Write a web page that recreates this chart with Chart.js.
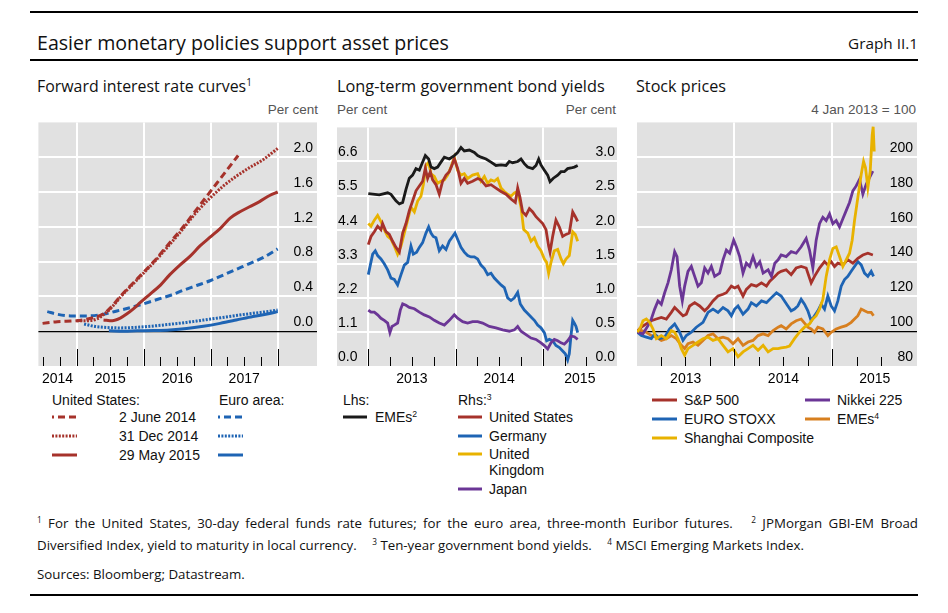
<!DOCTYPE html>
<html><head><meta charset="utf-8">
<script src="https://cdn.jsdelivr.net/npm/chart.js@4.4.0/dist/chart.umd.min.js"></script>
<style>
html,body{margin:0;padding:0;background:#fff;}
body{width:948px;height:613px;position:relative;overflow:hidden;font-family:"Liberation Sans",Arial,sans-serif;color:#000;}
.abs{position:absolute;white-space:nowrap;}
.rule{position:absolute;left:30px;width:888px;height:2px;background:#000;}
.hum{font-family:"Open Sans","Noto Sans",sans-serif;color:#111;}
canvas{position:absolute;}
.lg{position:absolute;white-space:nowrap;font-size:14px;line-height:16px;color:#111;}
.unit{position:absolute;white-space:nowrap;font-size:13.5px;line-height:16px;color:#555;}
sup{font-size:0.62em;line-height:0;vertical-align:0.6em;}
.gap{display:inline-block;width:12px;}
.fn{position:absolute;left:37px;line-height:18px;white-space:nowrap;}
</style></head><body>

<div class="rule" style="top:11px"></div>
<div id="title" class="abs hum" style="left:37px;top:30px;line-height:26px;">Easier monetary policies support asset prices</div>
<div id="graphno" class="abs hum" style="right:30px;top:30px;line-height:26px;">Graph II.1</div>
<div class="rule" style="top:59px"></div>

<div id="t1" class="abs hum" style="left:37px;top:74px;line-height:24px;">Forward interest rate curves<sup>1</sup></div>
<div id="t2" class="abs hum" style="left:337px;top:74px;line-height:24px;">Long-term government bond yields</div>
<div id="t3" class="abs hum" style="left:636px;top:74px;line-height:24px;">Stock prices</div>

<div class="unit" style="right:630px;top:102px;">Per cent</div>
<div class="unit" style="left:337px;top:102px;">Per cent</div>
<div class="unit" style="right:332px;top:102px;">Per cent</div>
<div class="unit" style="right:32px;top:102px;">4 Jan 2013 = 100</div>

<canvas id="c1" width="280" height="272" style="left:37px;top:118px"></canvas>
<canvas id="c2" width="280" height="272" style="left:337px;top:118px"></canvas>
<canvas id="c3" width="280" height="272" style="left:637px;top:118px"></canvas>

<div id="legends"></div>

<div id="fn1" class="fn hum" style="top:514px;width:881px;text-align:justify;text-align-last:justify;white-space:normal;"><sup>1</sup> For the United States, 30-day federal funds rate futures; for the euro area, three-month Euribor futures.<span class="gap"></span> <sup>2</sup> JPMorgan GBI-EM Broad</div>
<div id="fn2" class="fn hum" style="top:536px;">Diversified Index, yield to maturity in local currency.<span class="gap"></span> <sup>3</sup> Ten-year government bond yields.<span class="gap"></span> <sup>4</sup> MSCI Emerging Markets Index.</div>
<div id="src" class="fn hum" style="top:565px;">Sources: Bloomberg; Datastream.</div>
<div class="rule" style="top:594px"></div>

<script>
// ---------------- DATA ----------------
// Panel 1: forward interest rate curves (x = year, y = per cent)
const p1Years = [2014, 2015, 2016, 2017];
const p1YTicks = [0, 0.4, 0.8, 1.2, 1.6, 2.0];
const usJun14 = [[2014.49,0.09],[2014.71,0.11],[2015.0,0.12],[2015.16,0.14],[2015.4,0.2],[2015.53,0.29],[2015.65,0.4],[2015.9,0.6],[2016.15,0.8],[2016.37,1.0],[2016.59,1.2],[2016.79,1.4],[2016.99,1.6],[2017.19,1.8],[2017.41,2.02]];
const usDec14 = [[2015.0,0.12],[2015.16,0.12],[2015.3,0.14],[2015.4,0.19],[2015.53,0.28],[2015.65,0.39],[2015.9,0.59],[2016.15,0.79],[2016.37,0.98],[2016.59,1.18],[2016.79,1.37],[2016.99,1.53],[2017.19,1.67],[2017.38,1.78],[2017.58,1.88],[2017.78,1.97],[2018.0,2.1]];
const usMay15 = [[2015.4,0.13],[2015.53,0.12],[2015.65,0.15],[2015.75,0.2],[2015.85,0.26],[2015.95,0.33],[2016.1,0.43],[2016.25,0.53],[2016.39,0.65],[2016.54,0.76],[2016.69,0.86],[2016.84,0.98],[2016.99,1.08],[2017.14,1.18],[2017.29,1.3],[2017.43,1.37],[2017.58,1.43],[2017.73,1.49],[2017.88,1.56],[2018.0,1.6]];
const euJun14 = [[2014.56,0.225],[2014.71,0.195],[2014.91,0.176],[2015.16,0.176],[2015.4,0.195],[2015.6,0.233],[2015.8,0.27],[2016.0,0.315],[2016.2,0.364],[2016.39,0.41],[2016.59,0.47],[2016.79,0.525],[2016.99,0.58],[2017.19,0.646],[2017.38,0.71],[2017.58,0.777],[2017.78,0.845],[2018.0,0.946]];
const euDec14 = [[2015.11,0.083],[2015.26,0.056],[2015.4,0.045],[2015.65,0.038],[2015.9,0.045],[2016.15,0.06],[2016.39,0.079],[2016.64,0.101],[2016.89,0.128],[2017.14,0.154],[2017.38,0.18],[2017.63,0.206],[2017.88,0.229],[2018.0,0.244]];
const euMay15 = [[2015.48,0.004],[2015.7,0.0],[2015.9,0.004],[2016.15,0.008],[2016.39,0.015],[2016.64,0.03],[2016.89,0.056],[2017.14,0.09],[2017.38,0.128],[2017.63,0.169],[2017.88,0.203],[2018.0,0.225]];

// Panel 2: long-term government bond yields (lhs EMEs, rhs others)
const p2Years = [2013, 2014, 2015];
const p2LeftTicks = [0, 1.1, 2.2, 3.3, 4.4, 5.5, 6.6];
const p2RightTicks = [0, 0.5, 1.0, 1.5, 2.0, 2.5, 3.0];
const bondEME = [[2013.000,5.56],[2013.126,5.52],[2013.222,5.59],[2013.260,5.54],[2013.317,5.33],[2013.356,5.23],[2013.394,5.28],[2013.432,5.70],[2013.470,6.06],[2013.508,6.16],[2013.547,6.37],[2013.585,6.32],[2013.615,6.53],[2013.654,6.79],[2013.692,6.68],[2013.719,6.42],[2013.757,6.37],[2013.795,6.42],[2013.833,6.58],[2013.872,6.74],[2013.929,6.68],[2013.986,6.79],[2014.024,6.89],[2014.063,7.05],[2014.101,6.94],[2014.158,6.97],[2014.216,6.89],[2014.254,6.79],[2014.292,6.74],[2014.350,6.68],[2014.407,6.58],[2014.464,6.47],[2014.522,6.49],[2014.579,6.47],[2014.617,6.60],[2014.655,6.56],[2014.713,6.60],[2014.751,6.68],[2014.789,6.53],[2014.827,6.42],[2014.885,6.37],[2014.923,6.47],[2014.954,6.68],[2014.980,6.49],[2015.019,6.32],[2015.057,6.16],[2015.084,5.95],[2015.122,6.06],[2015.172,6.16],[2015.210,6.27],[2015.248,6.27],[2015.286,6.37],[2015.324,6.39],[2015.363,6.42],[2015.401,6.47]];
const bondUS = [[2013.000,1.78],[2013.031,1.90],[2013.069,1.97],[2013.107,2.05],[2013.145,2.00],[2013.164,2.09],[2013.203,1.97],[2013.241,1.93],[2013.279,1.83],[2013.317,1.74],[2013.356,1.67],[2013.394,1.95],[2013.432,2.09],[2013.470,2.28],[2013.508,2.42],[2013.547,2.57],[2013.585,2.64],[2013.623,2.71],[2013.654,2.90],[2013.680,2.75],[2013.711,2.85],[2013.738,2.73],[2013.776,2.66],[2013.814,2.52],[2013.852,2.71],[2013.891,2.80],[2013.929,2.85],[2013.967,2.97],[2013.986,3.04],[2014.024,2.90],[2014.063,2.68],[2014.101,2.75],[2014.139,2.68],[2014.196,2.71],[2014.254,2.75],[2014.292,2.73],[2014.350,2.64],[2014.407,2.66],[2014.464,2.61],[2014.522,2.56],[2014.579,2.52],[2014.636,2.45],[2014.686,2.40],[2014.713,2.61],[2014.740,2.47],[2014.770,2.26],[2014.808,2.21],[2014.847,2.31],[2014.885,2.26],[2014.923,2.19],[2014.961,2.14],[2015.000,2.09],[2015.038,2.00],[2015.068,1.76],[2015.084,1.67],[2015.114,1.90],[2015.152,2.14],[2015.191,2.04],[2015.229,1.90],[2015.267,1.93],[2015.305,1.95],[2015.344,2.26],[2015.374,2.19],[2015.401,2.12]];
const bondDE = [[2013.000,1.34],[2013.023,1.48],[2013.050,1.64],[2013.080,1.69],[2013.107,1.62],[2013.145,1.57],[2013.183,1.50],[2013.222,1.41],[2013.260,1.29],[2013.298,1.27],[2013.336,1.19],[2013.375,1.34],[2013.413,1.48],[2013.451,1.52],[2013.489,1.76],[2013.516,1.64],[2013.554,1.67],[2013.585,1.74],[2013.623,1.81],[2013.661,1.95],[2013.692,2.04],[2013.719,1.95],[2013.745,1.90],[2013.776,1.88],[2013.814,1.69],[2013.852,1.76],[2013.891,1.71],[2013.929,1.83],[2013.967,1.90],[2013.994,1.95],[2014.024,1.86],[2014.063,1.74],[2014.101,1.67],[2014.139,1.62],[2014.177,1.60],[2014.216,1.60],[2014.254,1.57],[2014.292,1.48],[2014.331,1.43],[2014.369,1.34],[2014.407,1.36],[2014.445,1.29],[2014.483,1.24],[2014.522,1.19],[2014.560,1.15],[2014.598,1.00],[2014.636,0.96],[2014.675,1.00],[2014.713,1.08],[2014.743,0.91],[2014.789,0.82],[2014.828,0.77],[2014.866,0.72],[2014.904,0.67],[2014.942,0.60],[2014.980,0.56],[2015.019,0.49],[2015.045,0.37],[2015.076,0.39],[2015.114,0.37],[2015.152,0.30],[2015.191,0.27],[2015.229,0.22],[2015.259,0.18],[2015.286,0.09],[2015.305,0.18],[2015.324,0.44],[2015.344,0.67],[2015.363,0.63],[2015.382,0.58],[2015.401,0.49]];
const bondUK = [[2013.000,2.09],[2013.031,2.05],[2013.069,2.14],[2013.107,2.21],[2013.145,2.12],[2013.183,2.00],[2013.222,1.90],[2013.260,1.86],[2013.298,1.76],[2013.336,1.64],[2013.375,1.76],[2013.413,1.95],[2013.451,2.14],[2013.489,2.33],[2013.528,2.26],[2013.566,2.42],[2013.604,2.49],[2013.631,2.66],[2013.661,2.94],[2013.692,2.99],[2013.719,2.82],[2013.757,2.78],[2013.795,2.68],[2013.833,2.71],[2013.872,2.73],[2013.910,2.80],[2013.948,2.92],[2013.986,3.06],[2014.024,2.87],[2014.063,2.80],[2014.101,2.82],[2014.139,2.75],[2014.196,2.80],[2014.254,2.82],[2014.292,2.71],[2014.331,2.78],[2014.369,2.68],[2014.407,2.73],[2014.445,2.71],[2014.483,2.75],[2014.522,2.61],[2014.560,2.56],[2014.598,2.52],[2014.636,2.49],[2014.675,2.54],[2014.713,2.56],[2014.751,2.33],[2014.782,2.00],[2014.828,1.95],[2014.866,1.83],[2014.904,1.88],[2014.942,1.76],[2014.980,1.69],[2015.019,1.57],[2015.045,1.52],[2015.068,1.36],[2015.095,1.52],[2015.133,1.69],[2015.172,1.71],[2015.210,1.57],[2015.237,1.50],[2015.267,1.57],[2015.305,1.62],[2015.344,1.97],[2015.374,1.93],[2015.401,1.83]];
const bondJP = [[2013.000,0.82],[2013.031,0.79],[2013.069,0.79],[2013.107,0.75],[2013.145,0.70],[2013.183,0.67],[2013.222,0.63],[2013.248,0.49],[2013.271,0.58],[2013.298,0.60],[2013.336,0.63],[2013.367,0.82],[2013.394,0.91],[2013.432,0.89],[2013.470,0.86],[2013.528,0.84],[2013.585,0.79],[2013.642,0.75],[2013.700,0.72],[2013.757,0.67],[2013.814,0.63],[2013.872,0.60],[2013.929,0.67],[2013.986,0.75],[2014.024,0.70],[2014.082,0.65],[2014.139,0.63],[2014.196,0.65],[2014.254,0.65],[2014.311,0.63],[2014.388,0.58],[2014.464,0.56],[2014.541,0.53],[2014.617,0.51],[2014.675,0.53],[2014.713,0.58],[2014.751,0.51],[2014.808,0.46],[2014.866,0.41],[2014.923,0.39],[2014.980,0.34],[2015.019,0.30],[2015.057,0.25],[2015.095,0.34],[2015.133,0.39],[2015.172,0.37],[2015.210,0.34],[2015.248,0.32],[2015.286,0.37],[2015.324,0.44],[2015.363,0.43],[2015.401,0.39]];

// Panel 3: stock prices (4 Jan 2013 = 100)
const p3Years = [2013, 2014, 2015];
const p3YTicks = [80, 100, 120, 140, 160, 180, 200];
const spx = [[2013.010,100.0],[2013.051,102.3],[2013.102,104.2],[2013.153,106.0],[2013.204,107.0],[2013.255,107.9],[2013.306,107.0],[2013.357,110.8],[2013.391,113.6],[2013.425,111.7],[2013.476,108.9],[2013.510,109.8],[2013.544,114.5],[2013.595,116.4],[2013.646,114.5],[2013.697,111.7],[2013.731,113.6],[2013.782,117.4],[2013.833,120.2],[2013.884,121.2],[2013.918,122.1],[2013.969,125.9],[2014.003,124.9],[2014.037,125.9],[2014.088,120.2],[2014.122,124.0],[2014.173,126.8],[2014.224,125.9],[2014.276,127.8],[2014.327,125.9],[2014.361,128.7],[2014.412,131.5],[2014.446,133.4],[2014.477,134.4],[2014.528,135.3],[2014.579,132.5],[2014.630,136.3],[2014.681,137.2],[2014.732,136.3],[2014.783,127.8],[2014.817,131.5],[2014.868,136.3],[2014.919,140.0],[2014.953,138.1],[2014.987,140.0],[2015.021,137.2],[2015.055,139.1],[2015.106,138.1],[2015.157,141.0],[2015.208,139.1],[2015.259,141.9],[2015.310,143.8],[2015.361,144.8],[2015.412,143.8]];
const stoxx = [[2013.010,99.4],[2013.051,97.5],[2013.102,96.6],[2013.153,95.7],[2013.187,98.5],[2013.238,95.7],[2013.289,96.6],[2013.340,101.3],[2013.391,104.2],[2013.442,99.4],[2013.476,94.7],[2013.510,97.5],[2013.561,99.4],[2013.612,102.3],[2013.680,105.1],[2013.731,110.8],[2013.782,112.7],[2013.833,110.8],[2013.884,113.6],[2013.935,111.7],[2013.969,108.9],[2014.003,112.7],[2014.037,114.5],[2014.088,109.8],[2014.139,112.7],[2014.173,116.4],[2014.224,114.5],[2014.276,117.4],[2014.327,116.4],[2014.378,119.3],[2014.429,122.1],[2014.477,120.2],[2014.511,117.4],[2014.545,114.5],[2014.579,111.7],[2014.613,112.7],[2014.647,114.5],[2014.681,118.3],[2014.715,115.5],[2014.749,111.7],[2014.783,106.0],[2014.817,108.9],[2014.851,111.7],[2014.885,115.5],[2014.919,112.7],[2014.953,120.2],[2014.987,114.5],[2015.021,111.7],[2015.055,117.4],[2015.089,125.9],[2015.123,129.7],[2015.157,131.5],[2015.191,134.4],[2015.225,137.2],[2015.259,140.0],[2015.293,138.1],[2015.327,133.4],[2015.361,131.5],[2015.395,134.4],[2015.419,131.5]];
const nikkei = [[2013.010,99.4],[2013.068,98.5],[2013.119,103.2],[2013.153,107.0],[2013.187,112.7],[2013.221,117.4],[2013.255,115.5],[2013.289,122.1],[2013.323,127.8],[2013.357,135.3],[2013.391,145.7],[2013.415,142.9],[2013.442,125.9],[2013.469,117.4],[2013.493,125.9],[2013.527,134.4],[2013.561,137.2],[2013.595,131.5],[2013.629,125.9],[2013.663,127.8],[2013.697,136.3],[2013.731,133.4],[2013.765,137.2],[2013.799,131.5],[2013.850,133.4],[2013.884,141.0],[2013.918,146.6],[2013.952,144.8],[2013.993,152.3],[2014.020,148.5],[2014.054,142.9],[2014.088,133.4],[2014.122,139.1],[2014.156,137.2],[2014.190,142.9],[2014.224,137.2],[2014.259,140.0],[2014.293,133.4],[2014.344,135.3],[2014.378,131.5],[2014.412,139.1],[2014.446,141.0],[2014.477,143.8],[2014.528,142.9],[2014.579,145.7],[2014.630,144.8],[2014.681,148.5],[2014.732,153.3],[2014.766,146.6],[2014.800,136.3],[2014.834,152.3],[2014.868,161.8],[2014.902,165.5],[2014.936,163.6],[2014.970,167.4],[2015.004,161.8],[2015.038,163.6],[2015.072,159.9],[2015.106,164.6],[2015.140,169.3],[2015.174,174.0],[2015.208,180.6],[2015.242,183.5],[2015.276,187.3],[2015.310,178.8],[2015.344,184.4],[2015.378,188.2],[2015.412,192.0]];
const shanghai = [[2013.010,99.4],[2013.044,102.3],[2013.068,106.0],[2013.102,107.0],[2013.136,105.1],[2013.170,101.3],[2013.204,95.7],[2013.255,97.5],[2013.306,95.7],[2013.357,100.4],[2013.391,99.4],[2013.425,95.7],[2013.459,90.0],[2013.493,86.2],[2013.527,90.0],[2013.578,91.9],[2013.629,93.8],[2013.680,95.7],[2013.731,96.6],[2013.782,94.7],[2013.833,95.7],[2013.884,91.9],[2013.935,88.1],[2013.986,90.0],[2014.037,85.3],[2014.088,88.1],[2014.139,90.0],[2014.190,91.9],[2014.241,89.0],[2014.293,91.9],[2014.344,88.1],[2014.395,90.0],[2014.446,90.0],[2014.477,90.4],[2014.528,90.9],[2014.562,91.5],[2014.613,95.7],[2014.664,99.4],[2014.715,102.3],[2014.766,104.2],[2014.800,107.0],[2014.834,108.9],[2014.868,112.7],[2014.902,118.3],[2014.936,131.5],[2014.970,141.0],[2015.004,147.6],[2015.038,148.5],[2015.072,142.9],[2015.106,137.2],[2015.140,141.0],[2015.174,144.8],[2015.201,152.3],[2015.225,163.6],[2015.259,176.9],[2015.293,190.1],[2015.317,197.6],[2015.337,193.9],[2015.361,182.5],[2015.385,192.0],[2015.405,212.7],[2015.415,217.5],[2015.426,203.3]];
const emeStocks = [[2013.010,99.4],[2013.051,100.4],[2013.102,99.4],[2013.153,97.5],[2013.204,96.6],[2013.255,94.7],[2013.306,95.7],[2013.357,97.5],[2013.408,95.7],[2013.459,91.9],[2013.493,90.0],[2013.527,92.8],[2013.578,93.8],[2013.629,91.9],[2013.680,94.7],[2013.731,97.5],[2013.782,98.5],[2013.833,95.7],[2013.884,96.6],[2013.935,95.7],[2013.986,92.8],[2014.037,95.7],[2014.088,91.9],[2014.139,93.8],[2014.190,94.7],[2014.241,97.5],[2014.293,98.5],[2014.344,97.5],[2014.395,100.4],[2014.446,102.3],[2014.477,103.2],[2014.528,101.3],[2014.579,104.2],[2014.630,106.0],[2014.681,107.0],[2014.715,104.7],[2014.749,102.3],[2014.783,101.3],[2014.817,99.4],[2014.851,102.3],[2014.902,101.3],[2014.953,97.5],[2014.987,99.4],[2015.038,101.3],[2015.089,102.3],[2015.140,103.2],[2015.191,105.1],[2015.225,107.0],[2015.259,108.9],[2015.293,112.7],[2015.327,111.7],[2015.361,110.8],[2015.395,110.8],[2015.419,108.9]];

// ---------------- STYLE ----------------
const FONT = '"Liberation Sans", Arial, sans-serif';
const COL = { red:'#a6322b', blue:'#1e64b4', yellow:'#e8b200', purple:'#6b3696', orange:'#d77f1f', black:'#1a1a1a' };
const GRAY = '#e1e1e1';
const DASH = [7, 4], DOT = [2, 1.4];

Chart.defaults.font.family = FONT;

const pts = a => a.map(([x, y]) => ({ x, y }));

const bgPlugin = {
  id: 'panelBg',
  beforeDraw(chart) {
    const { ctx, chartArea: a } = chart;
    ctx.save(); ctx.fillStyle = GRAY;
    ctx.fillRect(a.left, a.top, a.right - a.left, a.bottom - a.top);
    ctx.restore();
  }
};
const quarterTicks = {
  id: 'quarterTicks',
  afterDatasetsDraw(chart, args, opts) {
    const { ctx, chartArea: a } = chart; const xs = chart.scales.x;
    ctx.save(); ctx.strokeStyle = '#000'; ctx.lineWidth = 1;
    for (const q of opts.values || []) {
      const px = Math.round(xs.getPixelForValue(q)) + 0.5;
      const major = Math.abs(q - Math.round(q)) < 1e-6;
      ctx.beginPath(); ctx.moveTo(px, a.bottom); ctx.lineTo(px, a.bottom - (major ? 17 : 9)); ctx.stroke();
    }
    ctx.restore();
  }
};

function quarters(from, to) { const r = []; for (let k = Math.round(from * 4); k <= Math.round(to * 4); k++) r.push(k / 4); return r; }

function xScale(xmin, xmax, gridYears, labelYears) {
  const labelMap = new Map();
  labelYears.forEach(y => { const lo = Math.max(y, xmin), hi = Math.min(y + 1, xmax); labelMap.set((lo + hi) / 2, String(y)); });
  return {
    type: 'linear', min: xmin, max: xmax, position: 'bottom',
    afterBuildTicks: s => { s.ticks = gridYears.concat([...labelMap.keys()]).sort((a, b) => a - b).map(v => ({ value: v })); },
    afterFit: s => { s.height = 24; },
    grid: { drawTicks: false, lineWidth: 2, color: c => (c.tick && labelMap.has(c.tick.value)) ? 'rgba(0,0,0,0)' : '#ffffff' },
    border: { display: false },
    ticks: { autoSkip: false, maxRotation: 0, minRotation: 0, padding: 5, color: '#000', font: { size: 14 }, callback: v => labelMap.get(v) || '' }
  };
}
function yScale(pos, min, max, ticks, dec, o) {
  return {
    type: 'linear', position: pos, min, max,
    afterBuildTicks: s => { s.ticks = ticks.map(v => ({ value: v })); },
    afterFit: s => { s.width = 0; },
    grid: { display: o.grid !== false, drawTicks: false,
      color: c => { const v = c.tick && c.tick.value; if (v === o.zero) return '#000'; if (v === o.hide) return 'rgba(0,0,0,0)'; return '#ffffff'; },
      lineWidth: c => (c.tick && c.tick.value === o.zero) ? 1.2 : 2 },
    border: { display: false },
    ticks: { mirror: true, padding: o.pad, labelOffset: -9, color: '#000', font: { size: 14 }, callback: v => v.toFixed(dec) }
  };
}
function line(data, color, extra) {
  return Object.assign({ data: pts(data), borderColor: color, backgroundColor: color, borderWidth: 2.8, pointRadius: 0, tension: 0, fill: false }, extra || {});
}
function make(id, datasets, scales, qvals) {
  return new Chart(document.getElementById(id), {
    type: 'line',
    data: { datasets },
    options: {
      responsive: false, animation: false, parsing: true,
      layout: { padding: 0 },
      plugins: { legend: { display: false }, tooltip: { enabled: false }, quarterTicks: { values: qvals } },
      scales
    },
    plugins: [bgPlugin, quarterTicks]
  });
}

// Panel 1
const smooth = { borderWidth: 3, cubicInterpolationMode: 'monotone' };
make('c1', [
  line(usMay15, COL.red, smooth),
  line(usDec14, COL.red, Object.assign({ borderDash: DOT }, smooth)),
  line(usJun14, COL.red, Object.assign({ borderDash: DASH }, smooth)),
  line(euMay15, COL.blue, smooth),
  line(euDec14, COL.blue, Object.assign({ borderDash: DOT }, smooth)),
  line(euJun14, COL.blue, Object.assign({ borderDash: DASH }, smooth))
], {
  x: xScale(2014.428, 2018.587, [2015, 2016, 2017, 2018], p1Years),
  y: yScale('right', -0.4, 2.4, p1YTicks, 1, { zero: 0, pad: -4 })
}, quarters(2014.5, 2018));

// Panel 2
make('c2', [
  line(bondEME, COL.black, { yAxisID: 'yl' }),
  line(bondJP, COL.purple, { yAxisID: 'yr' }),
  line(bondDE, COL.blue, { yAxisID: 'yr' }),
  line(bondUS, COL.red, { yAxisID: 'yr' }),
  line(bondUK, COL.yellow, { yAxisID: 'yr' })
], {
  x: xScale(2012.641, 2015.852, [2013, 2014, 2015], p2Years),
  yl: yScale('left', 0, 7.7, p2LeftTicks, 1, { hide: 0, pad: 1 }),
  yr: yScale('right', 0, 3.5, p2RightTicks, 1, { grid: false, pad: -2 })
}, quarters(2013, 2015.5));

// Panel 3
make('c3', [
  line(shanghai, COL.yellow),
  line(nikkei, COL.purple),
  line(spx, COL.red),
  line(stoxx, COL.blue),
  line(emeStocks, COL.orange)
], {
  x: xScale(2013.007, 2015.862, [2014, 2015], p3Years),
  y: yScale('right', 80, 220, p3YTicks, 0, { zero: 100, hide: 80, pad: -4 })
}, quarters(2013.25, 2015.5));

// ---------------- LEGENDS (HTML) ----------------
const legendItems = [
  { x: 52, y: 400, text: 'United States:' },
  { x: 219, y: 400, text: 'Euro area:' },
  { x: 52, y: 417, w: 25, color: COL.red, dash: '7 4', off: 5 },
  { x: 52, y: 436, w: 25, color: COL.red, dash: '2 1.4', off: 0 },
  { x: 52, y: 455, w: 25, color: COL.red },
  { x: 119, y: 417, text: '2 June 2014' },
  { x: 119, y: 436, text: '31 Dec 2014' },
  { x: 119, y: 455, text: '29 May 2015' },
  { x: 218, y: 417, w: 25, color: COL.blue, dash: '7 4', off: 5 },
  { x: 218, y: 436, w: 25, color: COL.blue, dash: '2 1.4', off: 0 },
  { x: 218, y: 455, w: 25, color: COL.blue },
  { x: 343, y: 400, text: 'Lhs:' },
  { x: 343, y: 417, w: 24, color: COL.black },
  { x: 375, y: 417, html: 'EMEs<sup>2</sup>' },
  { x: 458, y: 400, html: 'Rhs:<sup>3</sup>' },
  { x: 458, y: 417, w: 24, color: COL.red },
  { x: 489, y: 417, text: 'United States' },
  { x: 458, y: 436, w: 24, color: COL.blue },
  { x: 489, y: 436, text: 'Germany' },
  { x: 458, y: 454, w: 24, color: COL.yellow },
  { x: 489, y: 454, text: 'United' },
  { x: 489, y: 470, text: 'Kingdom' },
  { x: 458, y: 489, w: 24, color: COL.purple },
  { x: 489, y: 489, text: 'Japan' },
  { x: 652, y: 400, w: 25, color: COL.red },
  { x: 684, y: 400, text: 'S&P 500' },
  { x: 652, y: 419, w: 25, color: COL.blue },
  { x: 684, y: 419, text: 'EURO STOXX' },
  { x: 652, y: 438, w: 25, color: COL.yellow },
  { x: 684, y: 438, text: 'Shanghai Composite' },
  { x: 805, y: 400, w: 25, color: COL.purple },
  { x: 837, y: 400, text: 'Nikkei 225' },
  { x: 805, y: 419, w: 25, color: COL.orange },
  { x: 837, y: 419, html: 'EMEs<sup>4</sup>' }
];
const lg = document.getElementById('legends');
for (const it of legendItems) {
  if (it.color) {
    const ns = 'http://www.w3.org/2000/svg';
    const svg = document.createElementNS(ns, 'svg');
    svg.setAttribute('width', it.w); svg.setAttribute('height', 4);
    svg.style.position = 'absolute'; svg.style.left = it.x + 'px'; svg.style.top = (it.y - 2) + 'px';
    const l = document.createElementNS(ns, 'line');
    l.setAttribute('x1', 0); l.setAttribute('x2', it.w); l.setAttribute('y1', 2); l.setAttribute('y2', 2);
    l.setAttribute('stroke', it.color); l.setAttribute('stroke-width', 3);
    if (it.dash) { l.setAttribute('stroke-dasharray', it.dash); l.setAttribute('stroke-dashoffset', it.off); }
    svg.appendChild(l); lg.appendChild(svg);
  } else {
    const d = document.createElement('div'); d.className = 'lg';
    d.style.left = it.x + 'px'; d.style.top = (it.y - 8) + 'px';
    if (it.html) d.innerHTML = it.html; else d.textContent = it.text;
    lg.appendChild(d);
  }
}

// fit humanist texts to measured widths
function fitW(id, w) { const el = document.getElementById(id); el.style.fontSize = '100px'; const r = el.getBoundingClientRect().width; const s = 100 * w / r; el.style.fontSize = s + 'px'; return s; }
fitW('title', 412); fitW('graphno', 70);
fitW('t1', 215); fitW('t2', 268); fitW('t3', 90);
const fs = fitW('src', 208);
document.getElementById('fn1').style.fontSize = fs + 'px';
document.getElementById('fn2').style.fontSize = fs + 'px';
</script>
</body></html>
